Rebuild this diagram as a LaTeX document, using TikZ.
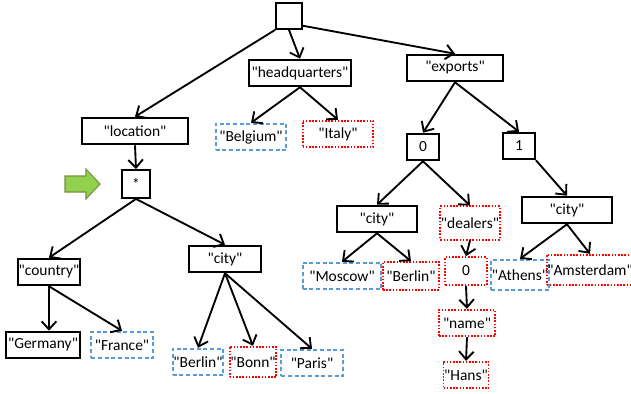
\documentclass[tikz,border=0pt]{standalone}
\usepackage{fontspec}
\setmainfont{Carlito}[Ligatures=TeXOff]
\usetikzlibrary{arrows.meta}
\definecolor{keyblue}{RGB}{91,155,213}
\definecolor{keyred}{RGB}{255,0,0}
\definecolor{markgreen}{RGB}{146,208,80}
\definecolor{markedge}{RGB}{118,146,60}
\begin{document}
\begin{tikzpicture}[x=0.75pt, y=-0.75pt,
  every node/.style={font=\fontsize{11.6}{13}\selectfont, inner sep=0.5pt},
  obj/.style={draw, line width=1.4pt, minimum height=20pt},
  kept/.style={draw=keyblue, line width=1.3pt, dash pattern=on 3pt off 2pt, minimum height=20pt},
  gone/.style={draw=keyred, line width=1.3pt, dash pattern=on 1.2pt off 1.2pt, minimum height=20pt},
  edge/.style={line width=1.4pt, -{Straight Barb[length=6pt, width=11pt, line width=1.4pt]}}]
  \useasboundingbox (0,0) rectangle (631,393);
  \node[obj, minimum width=19.5pt, minimum height=19.5pt] (root) at (289,16) {};
  \node[obj, minimum width=77pt] (hq) at (300,73) {"headquarters"};
  \node[obj, minimum width=72pt] (exp) at (455,68) {"exports"};
  \node[obj, minimum width=80pt] (loc) at (135,131) {"location"};
  \node[kept, minimum width=53pt] (belg) at (251,137) {"Belgium"};
  \node[gone, minimum width=53pt] (italy) at (338,134) {"Italy"};
  \node[obj, minimum width=24pt] (e0) at (423,147) {0};
  \node[obj, minimum width=24pt] (e1) at (519,146) {1};
  \node[obj, minimum width=21pt, minimum height=21pt] (star) at (136,184) {*};
  \node[obj, minimum width=46pt] (country) at (49,272) {"country"};
  \node[obj, minimum width=54pt] (citya) at (225,259) {"city"};
  \node[obj, minimum width=55pt] (germany) at (43,345) {"Germany"};
  \node[kept, minimum width=46pt] (france) at (122,345) {"France"};
  \node[kept, minimum width=38pt] (berlina) at (198,362) {"Berlin"};
  \node[gone, minimum width=35pt, minimum height=23pt] (bonn) at (253,362) {"Bonn"};
  \node[kept, minimum width=46pt] (paris) at (312,363) {"Paris"};
  \node[obj, minimum width=60pt] (cityb) at (377,219) {"city"};
  \node[gone, minimum width=42pt, minimum height=25pt] (dealers) at (470,223) {"dealers"};
  \node[obj, minimum width=67pt] (cityc) at (567,210) {"city"};
  \node[kept, minimum width=59pt] (moscow) at (342,276) {"Moscow"};
  \node[gone, minimum width=42pt, minimum height=21pt] (berlinb) at (411,276) {"Berlin"};
  \node[gone, minimum width=31pt, minimum height=21pt] (d0) at (466,271) {0};
  \node[kept, minimum width=43pt, minimum height=23pt] (athens) at (520,275) {"Athens"};
  \node[gone, minimum width=62pt, minimum height=23pt] (amst) at (590,270) {"Amsterdam"};
  \node[gone, minimum width=42pt] (name) at (467,323) {"name"};
  \node[gone, minimum width=32pt] (hans) at (466,375) {"Hans"};
  \draw[markedge, fill=markgreen, line width=0.8pt] (65,176) -- (86,176) -- (86,169) -- (100,184)
    -- (86,199) -- (86,192) -- (65,192) -- cycle;
  \draw[edge] (root.south west) -- (loc.north);
  \draw[edge] (root.south) -- (hq.north);
  \draw[edge] (root.-35) -- (exp.north);
  \draw[edge] (hq.south) -- (belg.north);
  \draw[edge] (hq.south) -- (italy.north);
  \draw[edge] (exp.south) -- (e0.north);
  \draw[edge] (exp.south) -- (e1.north);
  \draw[edge] (loc.south) -- (star.north);
  \draw[edge] (star.south) -- (country.north);
  \draw[edge] (star.south) -- (citya.north);
  \draw[edge] (country.south) -- (germany.north -| country.south);
  \draw[edge] (country.south) -- (france.north);
  \draw[edge] (citya.south) -- (berlina.north);
  \draw[edge] (citya.south) -- (bonn.north);
  \draw[edge] (citya.south) -- (paris.north);
  \draw[edge] (e0.south) -- (cityb.north);
  \draw[edge] (e0.south) -- (dealers.north);
  \draw[edge] (e1.south east) -- (cityc.north);
  \draw[edge] (cityb.south) -- (moscow.north);
  \draw[edge] (cityb.south) -- (berlinb.north);
  \draw[edge] (dealers.south) -- (d0.north);
  \draw[edge] (d0.south) -- (name.north);
  \draw[edge] (name.south) -- (hans.north);
  \draw[edge] (cityc.south) -- (athens.north);
  \draw[edge] (cityc.south) -- (amst.north);
\end{tikzpicture}
\end{document}
